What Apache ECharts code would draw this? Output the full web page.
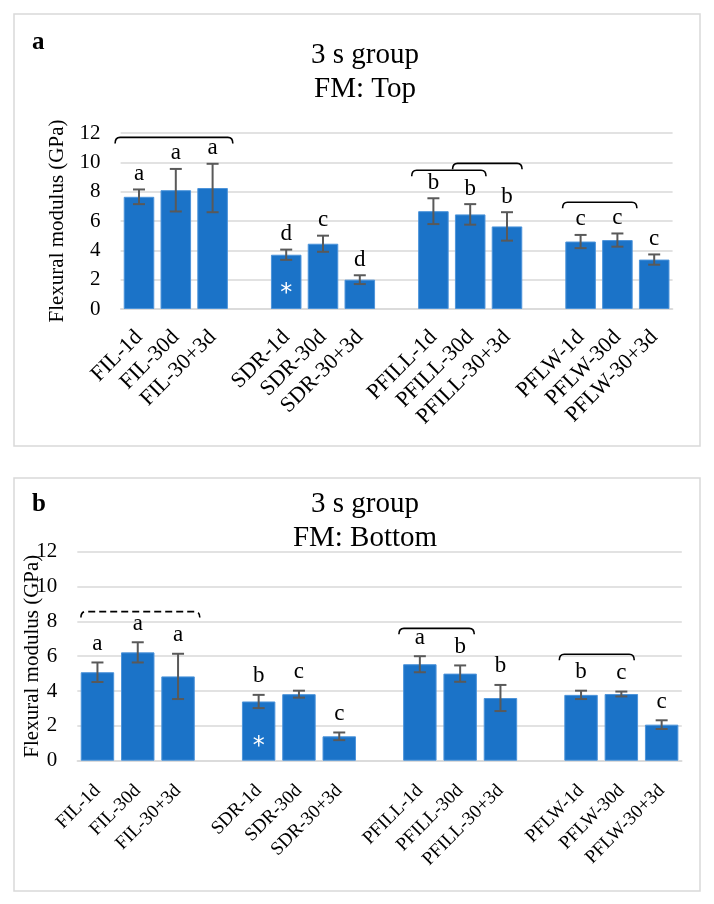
<!DOCTYPE html>
<html>
<head>
<meta charset="utf-8">
<script src="https://cdn.jsdelivr.net/npm/echarts@6/dist/echarts.min.js"></script>
<style>
  html, body { margin: 0; padding: 0; background: #fff; }
  #chart { width: 714px; height: 904px; }
</style>
</head>
<body>
<div id="chart"></div>
<script>
// groups of three, one empty slot between groups
var categories = ['FIL-1d', 'FIL-30d', 'FIL-30+3d', 'SDR-1d', 'SDR-30d', 'SDR-30+3d',
  'PFILL-1d', 'PFILL-30d', 'PFILL-30+3d', 'PFLW-1d', 'PFLW-30d', 'PFLW-30+3d'];

// panel a: FM top
var topMean = [7.65, 8.1, 8.25, 3.7, 4.45, 2.0, 6.67, 6.45, 5.63, 4.6, 4.7, 3.37];
var topSd = [0.5, 1.45, 1.65, 0.35, 0.55, 0.3, 0.88, 0.7, 0.97, 0.45, 0.45, 0.35];
var topLetters = ['a', 'a', 'a', 'd', 'c', 'd', 'b', 'b', 'b', 'c', 'c', 'c'];

// panel b: FM bottom
var bottomMean = [5.08, 6.22, 4.84, 3.4, 3.82, 1.4, 5.54, 5.0, 3.6, 3.78, 3.83, 2.07];
var bottomSd = [0.56, 0.58, 1.3, 0.38, 0.2, 0.22, 0.46, 0.47, 0.75, 0.24, 0.14, 0.25];
var bottomLetters = ['a', 'a', 'a', 'b', 'c', 'c', 'a', 'b', 'b', 'b', 'c', 'c'];

// brackets: [from slot, to slot, value, dashed]
var topBrackets = [[-0.65, 2.55, 11.7, false], [7.41, 9.43, 9.46, false], [8.52, 10.41, 9.93, false], [11.51, 13.53, 7.28, false]];
var bottomBrackets = [[-0.41, 2.54, 8.56, true], [7.48, 9.35, 7.6, false], [11.46, 13.32, 6.11, false]];

// asterisk inside SDR-1d bar: [category index, value]
var topStar = [3, 1.05];
var bottomStar = [3, 0.8];

var yMax = 12;
var yStep = 2;

var FONT = 'Liberation Serif';
var BAR = '#1b73c8';
var GRID_LINE = '#d9d9d9';

function slotOf(i) { return i + Math.floor(i / 3); }

var slotLabels = [];
categories.forEach(function (c, i) {
  slotLabels[slotOf(i)] = c;
});
for (var s = 0; s < slotLabels.length; s++) if (slotLabels[s] === undefined) slotLabels[s] = '';

function slotValues(arr) {
  var out = slotLabels.map(function () { return '-'; });
  arr.forEach(function (v, i) { out[slotOf(i)] = v; });
  return out;
}

function errSeries(gridIdx, mean, sd, letters, gap) {
  return {
    type: 'custom',
    xAxisIndex: gridIdx,
    yAxisIndex: gridIdx,
    z: 5,
    data: mean.map(function (m, i) { return [slotOf(i), m - sd[i], m + sd[i]]; }),
    renderItem: function (params, api) {
      var lo = api.coord([api.value(0), api.value(1)]);
      var hi = api.coord([api.value(0), api.value(2)]);
      var x = hi[0], cap = 6;
      var st = { stroke: '#595959', lineWidth: 2 };
      return {
        type: 'group',
        children: [
          { type: 'line', shape: { x1: x, y1: lo[1], x2: x, y2: hi[1] }, style: st },
          { type: 'line', shape: { x1: x - cap, y1: hi[1], x2: x + cap, y2: hi[1] }, style: st },
          { type: 'line', shape: { x1: x - cap, y1: lo[1], x2: x + cap, y2: lo[1] }, style: st },
          { type: 'text', x: x, y: hi[1] - gap,
            style: { text: letters[params.dataIndex], fill: '#000', font: '23px "' + FONT + '"',
              align: 'center', verticalAlign: 'bottom' } }
        ]
      };
    }
  };
}

function bracketSeries(gridIdx, list) {
  return {
    type: 'custom',
    xAxisIndex: gridIdx,
    yAxisIndex: gridIdx,
    z: 6,
    clip: false,
    data: list.map(function (b) { return [0, b[2]]; }),
    renderItem: function (params, api) {
      var b = list[params.dataIndex];
      var base = api.coord([0, api.value(1)]);
      var band = api.size([1, 0])[0];
      var x1 = base[0] + b[0] * band, x2 = base[0] + b[1] * band, y = base[1];
      var r = 5;
      var path = 'M' + x1 + ' ' + (y + 6) + ' Q' + x1 + ' ' + y + ' ' + (x1 + r) + ' ' + y +
        ' L' + (x2 - r) + ' ' + y + ' Q' + x2 + ' ' + y + ' ' + x2 + ' ' + (y + 6);
      return {
        type: 'path',
        shape: { pathData: path },
        style: { stroke: '#000', lineWidth: 1.6, fill: null, lineDash: b[3] ? [7, 4] : null }
      };
    }
  };
}

function starSeries(gridIdx, star) {
  return {
    type: 'custom',
    xAxisIndex: gridIdx,
    yAxisIndex: gridIdx,
    z: 7,
    data: [[slotOf(star[0]), star[1]]],
    renderItem: function (params, api) {
      var p = api.coord([api.value(0), api.value(1)]);
      return { type: 'text', x: p[0], y: p[1],
        style: { text: '*', fill: '#fff', font: '24px "DejaVu Sans"', align: 'center', verticalAlign: 'middle' } };
    }
  };
}

function xAxisOf(gridIdx, size, margin) {
  return {
    type: 'category',
    gridIndex: gridIdx,
    data: slotLabels,
    axisTick: { show: false },
    axisLine: { lineStyle: { color: GRID_LINE, width: 1.5 } },
    axisLabel: { interval: 0, rotate: 45, margin: margin, color: '#000', fontFamily: FONT, fontSize: size }
  };
}

function yAxisOf(gridIdx, nameGap) {
  return {
    type: 'value',
    gridIndex: gridIdx,
    min: 0,
    max: yMax,
    interval: yStep,
    name: 'Flexural modulus (GPa)',
    nameLocation: 'middle',
    nameGap: nameGap,
    nameMoveOverlap: false,
    nameTextStyle: { color: '#000', fontFamily: FONT, fontSize: 21 },
    axisLine: { show: false },
    axisTick: { show: false },
    axisLabel: { margin: 20, color: '#000', fontFamily: FONT, fontSize: 21 },
    splitLine: { lineStyle: { color: GRID_LINE, width: 1.5 } }
  };
}

function barSeries(gridIdx, mean) {
  return {
    type: 'bar',
    xAxisIndex: gridIdx,
    yAxisIndex: gridIdx,
    barCategoryGap: '17%',
    data: slotValues(mean),
    itemStyle: { color: BAR, borderColor: '#4d94da', borderWidth: 1 },
    emphasis: { disabled: true }
  };
}

var titleStyle = { color: '#000', fontFamily: FONT, fontSize: 29, fontWeight: 'normal', lineHeight: 34 };

var option = {
  animation: false,
  backgroundColor: '#fff',
  title: [
    { text: '3 s group\nFM: Top', left: 360, top: 33, textAlign: 'center', textStyle: titleStyle },
    { text: '3 s group\nFM: Bottom', left: 360, top: 482, textAlign: 'center', textStyle: titleStyle }
  ],
  graphic: [
    { type: 'rect', shape: { x: 14, y: 14, width: 686, height: 432 }, style: { fill: null, stroke: GRID_LINE, lineWidth: 1.5 } },
    { type: 'rect', shape: { x: 14, y: 478, width: 686, height: 413 }, style: { fill: null, stroke: GRID_LINE, lineWidth: 1.5 } },
    { type: 'text', x: 32, y: 30, style: { text: 'a', fill: '#000', font: 'bold 25px "' + FONT + '"' } },
    { type: 'text', x: 32, y: 492, style: { text: 'b', fill: '#000', font: 'bold 25px "' + FONT + '"' } }
  ],
  grid: [
    { left: 120.6, right: 41.4, top: 133, bottom: 595, outerBoundsMode: 'none' },
    { left: 77.3, right: 32.2, top: 551.7, bottom: 143.3, outerBoundsMode: 'none' }
  ],
  xAxis: [xAxisOf(0, 22, 25), xAxisOf(1, 19, 27)],
  yAxis: [yAxisOf(0, 53), yAxisOf(1, 34)],
  series: [
    barSeries(0, topMean),
    errSeries(0, topMean, topSd, topLetters, 4),
    bracketSeries(0, topBrackets),
    starSeries(0, topStar),
    barSeries(1, bottomMean),
    errSeries(1, bottomMean, bottomSd, bottomLetters, 7),
    bracketSeries(1, bottomBrackets),
    starSeries(1, bottomStar)
  ]
};

var myChart = echarts.init(document.getElementById('chart'));
myChart.setOption(option);
</script>
</body>
</html>
